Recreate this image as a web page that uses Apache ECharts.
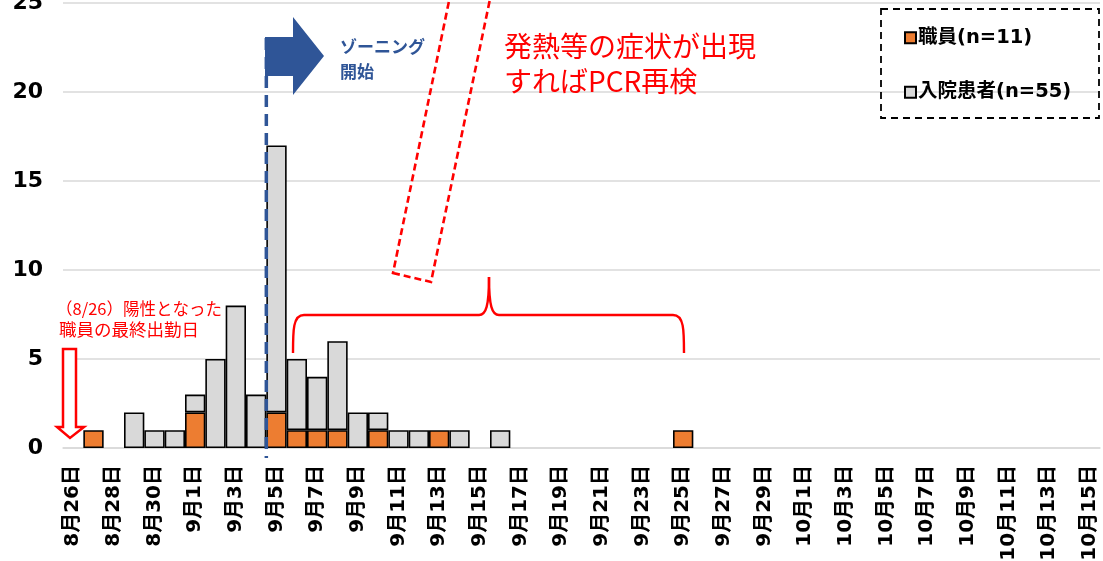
<!DOCTYPE html>
<html><head><meta charset="utf-8">
<script src="https://cdn.jsdelivr.net/npm/echarts@6/dist/echarts.min.js"></script>
<style>html,body{margin:0;padding:0;background:#fff}#c{width:1103px;height:561px}</style>
</head><body><div id="c"></div>
<script>
const dates = ['8月26日','8月27日','8月28日','8月29日','8月30日','8月31日',
 '9月1日','9月2日','9月3日','9月4日','9月5日','9月6日','9月7日','9月8日','9月9日','9月10日',
 '9月11日','9月12日','9月13日','9月14日','9月15日','9月16日','9月17日','9月18日','9月19日','9月20日',
 '9月21日','9月22日','9月23日','9月24日','9月25日','9月26日','9月27日','9月28日','9月29日','9月30日',
 '10月1日','10月2日','10月3日','10月4日','10月5日','10月6日','10月7日','10月8日','10月9日','10月10日',
 '10月11日','10月12日','10月13日','10月14日','10月15日'];
const staff = [0,1,0,0,0,0,2,0,0,0,2,1,1,1,0,1,0,0,1,0,0,0,0,0,0,0,0,0,0,0,1,0,0,0,0,0,0,0,0,0,0,0,0,0,0,0,0,0,0,0,0];
const patients = [0,0,0,2,1,1,1,5,8,3,15,4,3,5,2,1,1,1,0,1,0,1,0,0,0,0,0,0,0,0,0,0,0,0,0,0,0,0,0,0,0,0,0,0,0,0,0,0,0,0,0];
const seriesNames = ['職員(n=11)','入院患者(n=55)'];
const yTicks = {min:0, max:25, interval:5};

const CJK = "'Noto Sans CJK JP'";
const NUM = "'DejaVu Sans','Noto Sans CJK JP'";
const chart = echarts.init(document.getElementById('c'), null, {renderer:'canvas'});
const barStyle = c => ({color:c, borderColor:'#000', borderWidth:1.6});
const option = {
  animation:false,
  backgroundColor:'#fff',
  grid:{left:63, right:3, top:3, bottom:113, containLabel:false, outerBoundsMode:'none'},
  legend:{
    orient:'vertical', left:899, top:23, itemGap:35, itemWidth:11, itemHeight:11,
    icon:'rect', selectedMode:false,
    textStyle:{fontWeight:'bold', fontSize:19.5, color:'#000', fontFamily:NUM, padding:[0,0,0,-3]},
    data:seriesNames
  },
  xAxis:{
    type:'category', data:dates, boundaryGap:true,
    axisLine:{lineStyle:{color:'#d9d9d9', width:1.5}},
    axisTick:{interval:1, length:6, lineStyle:{color:'#d9d9d9', width:1.5}},
    axisLabel:{interval:1, rotate:90, color:'#000', fontWeight:'bold', fontSize:20, fontFamily:NUM, margin:17}
  },
  yAxis:{
    type:'value', min:yTicks.min, max:yTicks.max, interval:yTicks.interval,
    axisLine:{show:false}, axisTick:{show:false},
    splitLine:{lineStyle:{color:'#d9d9d9', width:1.5}},
    axisLabel:{color:'#000', fontWeight:'bold', fontSize:22, fontFamily:NUM, margin:20}
  },
  series:[
    {name:seriesNames[0], type:'bar', stack:'s', barCategoryGap:'0%', data:staff.map(v=>v||'-'), itemStyle:barStyle('#ED7D31')},
    {name:seriesNames[1], type:'bar', stack:'s', barCategoryGap:'0%', data:patients.map(v=>v||'-'), itemStyle:barStyle('#D9D9D9')}
  ]
};
chart.setOption(option);

const px = i => chart.convertToPixel({xAxisIndex:0}, dates[i]);
const zoneX = (px(9) + px(10)) / 2;
const red = '#FF0000';
const bez = (x1,y1,cpx1,cpy1,cpx2,cpy2,x2,y2) => ({type:'bezierCurve', z:101,
  shape:{x1,y1,cpx1,cpy1,cpx2,cpy2,x2,y2}, style:{fill:'none', stroke:red, lineWidth:2.4}});
const seg = (x1,y1,x2,y2) => ({type:'line', z:101, shape:{x1,y1,x2,y2}, style:{stroke:red, lineWidth:2.4}});

chart.setOption({graphic:[
  {type:'rect', z:100, shape:{x:881, y:9, width:218, height:109},
   style:{fill:'none', stroke:'#000', lineWidth:1.8, lineDash:[7,5]}},
  {type:'line', z:100, shape:{x1:zoneX, y1:38, x2:zoneX, y2:458},
   style:{stroke:'#2F5597', lineWidth:3.5, lineDash:[12,7]}},
  {type:'polygon', z:101, shape:{points:[[265,37],[293,37],[293,17],[324,56],[293,95],[293,76],[265,76]]},
   style:{fill:'#2F5597'}},
  {type:'text', z:101, style:{text:'ゾーニング\n開始', x:340, y:34, fill:'#2F5597', fontSize:17, fontWeight:'bold', fontFamily:CJK, lineHeight:25}},
  {type:'text', z:101, style:{text:'発熱等の症状が出現\nすればPCR再検', x:504, y:29, fill:red, fontSize:28, fontFamily:CJK, lineHeight:35}},
  {type:'text', z:101, style:{text:'（8/26）陽性となった', x:56, y:309, fill:red, fontSize:16.5, fontFamily:CJK, textVerticalAlign:'middle'}},
  {type:'text', z:101, style:{text:'職員の最終出勤日', x:59, y:329, fill:red, fontSize:17.5, fontFamily:CJK, textVerticalAlign:'middle'}},
  {type:'polygon', z:101, shape:{points:[[63,349],[76,349],[76,427],[84,427],[70,438],[57,427],[63,427]]},
   style:{fill:'#fff', stroke:red, lineWidth:2.5}},
  bez(293,353, 293,330, 293,315, 304,315),
  seg(304,315, 479,315),
  bez(479,315, 486,315, 489,306, 489,277),
  bez(489,277, 489,306, 492,315, 499,315),
  seg(499,315, 673,315),
  bez(673,315, 684,315, 684,330, 684,353),
  {type:'polygon', z:101, shape:{points:[[393,273],[431,282],[494,-20],[455,-28]]},
   style:{fill:'none', stroke:red, lineWidth:2.6, lineDash:[7,4]}}
]});
</script>
</body></html>
